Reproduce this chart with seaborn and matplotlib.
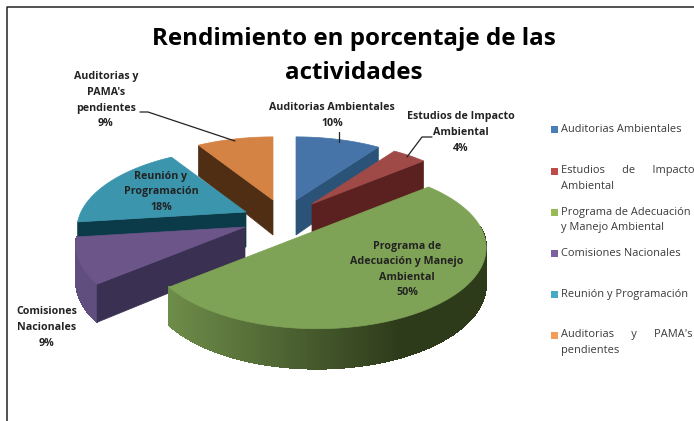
import numpy as np
import seaborn as sns
from matplotlib import pyplot as plt
from matplotlib.patches import Polygon, Rectangle
from matplotlib.colors import to_rgb

categories = ['Auditorias Ambientales', 'Estudios de Impacto Ambiental',
              'Programa de Adecuación y Manejo Ambiental', 'Comisiones Nacionales',
              'Reunión y Programación', "Auditorias y PAMA's pendientes"]
values = [10, 4, 50, 9, 18, 9]

top_colors = ['#4674A8', '#A04A48', '#7FA356', '#6B5589', '#3B95AC', '#D48344']
cut_colors = ['#2B5378', '#5A2120', '#4E6B30', '#3A3052', '#0B3A48', '#4F2E14']
legend_colors = ['#4A7EBB', '#BE4B48', '#98B954', '#7D60A0', '#46AAC5', '#F59D56']

# pie layout, in pixels of the 694x421 picture
apex = [(296, 200), (312, 204), (317, 230), (245, 227), (246, 212), (273, 200)]
rx, ry, persp = 165, 77, 0.22
draw_order = [5, 0, 1, 4, 3, 2]

sns.set_theme(style='white')
plt.rcParams['font.family'] = ['Open Sans', 'DejaVu Sans']

fig = plt.figure(figsize=(6.94, 4.21), dpi=100, facecolor='white')
ax = fig.add_axes([0, 0, 1, 1])
ax.set_xlim(0, 694)
ax.set_ylim(421, 0)
ax.axis('off')

# frame of the chart, only left and top are in the crop
ax.plot([7, 7, 694], [421, 7, 7], color='#222222', lw=1.1)


def rim(i, th):
    v = np.sin(th)
    k = 1 + persp * v
    return apex[i][0] + rx * np.cos(th) / k, apex[i][1] - ry * v / k


def depth(th):
    return 35 - 5 * np.sin(th)


def shade(a, b, t):
    a, b = np.array(to_rgb(a)), np.array(to_rgb(b))
    return tuple(a + (b - a) * t)


# slices run clockwise from 12 o'clock
edges = 90 - np.cumsum([0] + values) * 3.6
for i in draw_order:
    th = np.radians(np.linspace(edges[i], edges[i + 1], 200))
    x, y = rim(i, th)
    x0, y0 = apex[i]

    # outer wall, only the part that faces the viewer
    if i in (2, 3):
        for j in range(len(th) - 1):
            if i == 2 and np.sin(th[j]) > 0.05:
                continue
            xs = [x[j], x[j + 1], x[j + 1], x[j]]
            ys = [y[j], y[j + 1], y[j + 1] + depth(th[j + 1]), y[j] + depth(th[j])]
            if i == 2:
                t = min(1, max(0, (x[j] - 170) / 230))
                col = shade('#6E8C49', '#2E3B1B', t)
            else:
                col = '#5F4E7E'
            ax.add_patch(Polygon(np.c_[xs, ys], closed=True, fc=col, ec=col, lw=0.6,
                                 antialiased=False))

    # cut face towards the viewer
    end = -1 if i in (0, 1) else 0
    ox, oy = x[end], y[end]
    face = [(ox, oy), (x0, y0), (x0, y0 + 35), (ox, oy + depth(th[end]))]
    if i != 2:
        ax.add_patch(Polygon(face, closed=True, fc=cut_colors[i], ec=cut_colors[i], lw=0.5))

    # top
    pts = np.r_[[(x0, y0)], np.c_[x, y]]
    ax.add_patch(Polygon(pts, closed=True, fc=top_colors[i], ec=top_colors[i], lw=0.5))

# leader lines
line_kw = dict(color='#222222', lw=0.9)
ax.plot([140, 148, 235], [112, 112, 141], **line_kw)
ax.plot([339, 339], [132, 142], **line_kw)
ax.plot([432, 422, 407], [137, 137, 157], **line_kw)

# data labels
label_lines = [['Auditorias Ambientales'], ['Estudios de Impacto', 'Ambiental'],
               ['Programa de', 'Adecuación y Manejo', 'Ambiental'],
               ['Comisiones', 'Nacionales'], ['Reunión y', 'Programación'],
               ['Auditorias y', "PAMA's", 'pendientes']]
label_x = [332, 461, 407, 47, 161, 106]
label_y = [108, 117, 246, 312, 176, 77]
for i, lines in enumerate(label_lines):
    for n, line in enumerate(lines + ['%d%%' % values[i]]):
        ax.text(label_x[i], label_y[i] + n * 15.6, line, ha='center', va='center',
                fontsize=7.7, fontweight='bold', color='#222222')

# title
ax.text(354, 39, 'Rendimiento en porcentaje de las', ha='center', va='center',
        fontsize=17.4, fontweight='bold', color='black')
ax.text(354, 73, 'actividades', ha='center', va='center',
        fontsize=17.4, fontweight='bold', color='black')

# legend, the justified lines keep their wide gaps
legend_lines = [['Auditorias Ambientales'], ['Estudios      de      Impacto', 'Ambiental'],
                ['Programa de Adecuación', 'y Manejo Ambiental'], ['Comisiones Nacionales'],
                ['Reunión y Programación'], ['Auditorias      y      PAMA\'s', 'pendientes']]
legend_y = [129, 171, 212, 253, 294, 335]
for i, lines in enumerate(legend_lines):
    ax.add_patch(Rectangle((551, legend_y[i] - 3.5), 7, 7, fc=legend_colors[i], ec='none'))
    for n, line in enumerate(lines):
        ax.text(561, legend_y[i] + n * 15.5, line, ha='left', va='center',
                fontsize=7.9, color='#3A3A3A')

fig.savefig('out.png', dpi=100)
